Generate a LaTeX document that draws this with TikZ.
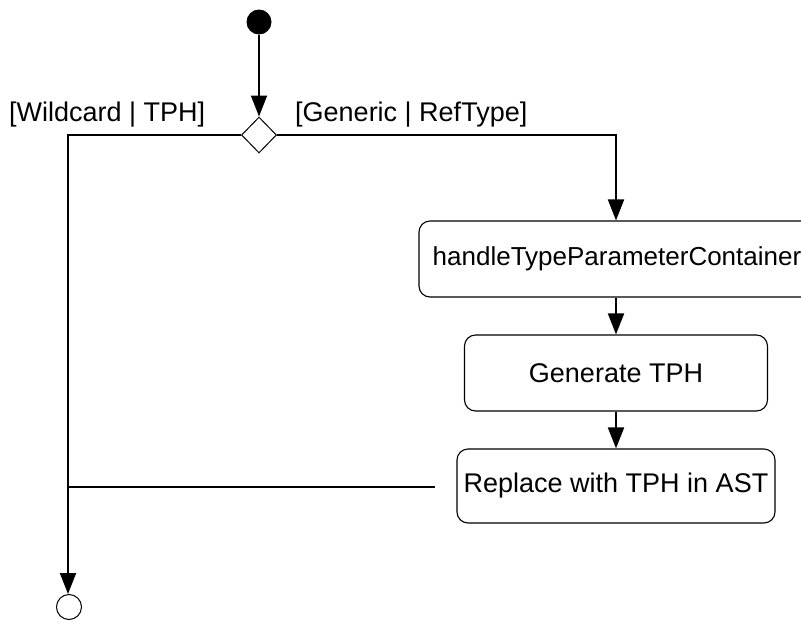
\documentclass[tikz,border=0pt]{standalone}
\usepackage{fontspec}
\setmainfont{Liberation Sans}
\usetikzlibrary{arrows.meta,shapes.geometric}
\begin{document}
\begin{tikzpicture}[x=1pt,y=-1pt,
  flow/.style={line width=1.9pt,-{Triangle[length=21pt,width=16pt]}},
  plain/.style={line width=1.9pt},
  act/.style={draw,line width=1.1pt,rounded corners=11pt,inner sep=0pt,font=\fontsize{27}{31}\selectfont},
  lbl/.style={font=\fontsize{27}{31}\selectfont,inner sep=0pt,anchor=west}]
\useasboundingbox (0,0) rectangle (801,624);
\clip (0,0) rectangle (801,624);
\node[circle,fill=black,minimum size=25pt,inner sep=0pt] (start) at (259,22) {};
\node[diamond,draw,line width=1pt,minimum width=35pt,minimum height=36pt,inner sep=0pt] (dec) at (259,135) {};
\node[circle,draw,line width=1pt,minimum size=25pt,inner sep=0pt] (final) at (69,607) {};
\node[act,minimum width=396pt,minimum height=76pt,font=\fontsize{26}{30}\selectfont] (b1) at (617,259) {handleTypeParameterContainer};
\node[act,minimum width=303pt,minimum height=76pt] (b2) at (616,373) {Generate TPH};
\node[act,minimum width=318pt,minimum height=74pt] (b3) at (616,486) {Replace with TPH in AST};
\node[lbl] (l1) at (9,115) {[Wildcard | TPH]};
\node[lbl] (l2) at (295,115) {[Generic | RefType]};
\coordinate (cl) at (68,135);
\coordinate (cr) at (616,135);
\coordinate (jn) at (68,487);
\coordinate (je) at (435,487);
\draw[flow] (start) -- (dec.north);
\draw[flow] (dec.west) -- (cl) -- (final.north -| cl);
\draw[flow] (dec.east) -- (cr) -- (b1.north -| cr);
\draw[flow] (b1.south -| cr) -- (b2.north -| cr);
\draw[flow] (b2.south -| cr) -- (b3.north -| cr);
\draw[plain] (je) -- (jn);
\end{tikzpicture}
\end{document}
